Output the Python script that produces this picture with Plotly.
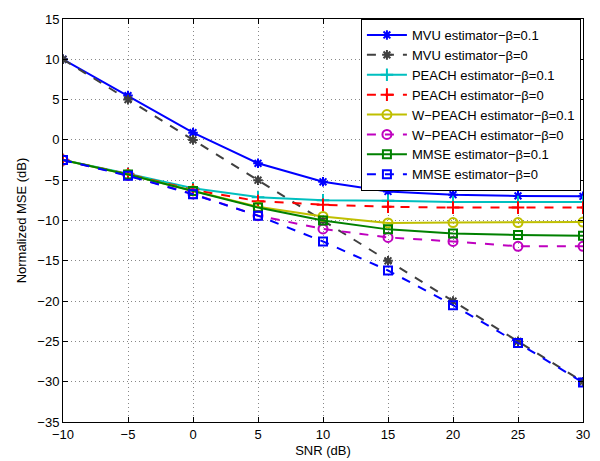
import plotly.graph_objects as go

snr = [-10, -5, 0, 5, 10, 15, 20, 25, 30]

mvu_b01 = [10.0, 5.5, 0.9, -2.9, -5.2, -6.4, -6.8, -6.95, -7.0]
mvu_b0 = [10.0, 5.0, 0.0, -5.0, -10.0, -15.0, -20.0, -25.0, -30.0]
peach_b01 = [-2.5, -4.2, -6.0, -7.1, -7.5, -7.55, -7.7, -7.7, -7.7]
peach_b0 = [-2.5, -4.25, -6.2, -7.6, -8.05, -8.3, -8.4, -8.4, -8.4]
wpeach_b01 = [-2.5, -4.3, -6.3, -8.3, -9.5, -10.3, -10.25, -10.25, -10.2]
wpeach_b0 = [-2.5, -4.4, -6.7, -9.4, -11.05, -12.1, -12.6, -13.2, -13.2]
mmse_b01 = [-2.5, -4.3, -6.35, -8.4, -10.0, -11.1, -11.6, -11.8, -11.9]
mmse_b0 = [-2.5, -4.45, -6.75, -9.4, -12.6, -16.2, -20.5, -25.2, -30.1]

names = [
    "MVU estimator−β=0.1",
    "MVU estimator−β=0",
    "PEACH estimator−β=0.1",
    "PEACH estimator−β=0",
    "W−PEACH estimator−β=0.1",
    "W−PEACH estimator−β=0",
    "MMSE estimator−β=0.1",
    "MMSE estimator−β=0",
]
series = [mvu_b01, mvu_b0, peach_b01, peach_b0, wpeach_b01, wpeach_b0, mmse_b01, mmse_b0]
colors = ["#0000ff", "#404040", "#00bfbf", "#ff0000", "#bfbf00", "#bf00bf", "#008000", "#0000ff"]
dashes = ["solid", "dash", "solid", "dash", "solid", "dash", "solid", "dash"]
symbols = ["asterisk-open", "asterisk-open", "cross-thin-open", "cross-thin-open",
           "circle-open", "circle-open", "square-open", "square-open"]
sizes = [8, 8, 9, 9, 9, 9, 8, 8]

fig = go.Figure()
for name, ys, c, d, s, sz in zip(names, series, colors, dashes, symbols, sizes):
    fig.add_trace(go.Scatter(
        x=snr, y=ys, name=name, mode="lines+markers",
        line=dict(color=c, width=2, dash=d),
        marker=dict(symbol=s, size=sz, color=c, line=dict(color=c, width=2)),
    ))

axis_common = dict(
    showline=True, linecolor="black", linewidth=1, mirror="allticks",
    ticks="inside", ticklen=5, tickcolor="black",
    showgrid=True, gridcolor="#888888", griddash="1px,3px", gridwidth=1,
    zeroline=False, ticklabeloverflow="allow",
    tickfont=dict(family="Liberation Sans, Arial", size=13, color="black"),
)

fig.update_layout(
    width=592, height=453,
    margin=dict(l=55, r=17, t=4, b=39),
    paper_bgcolor="white", plot_bgcolor="white",
    font=dict(family="Liberation Sans, Arial", size=13, color="black"),
    xaxis=dict(range=[-10, 30], dtick=5, tick0=-10,
               title=dict(text="SNR (dB)", standoff=5, font=dict(size=13)), **axis_common),
    yaxis=dict(range=[-35, 15], dtick=5, tick0=-35,
               title=dict(text="Normalized MSE (dB)", standoff=7, font=dict(size=13)), **axis_common),
    legend=dict(x=0.996, y=1.0, xanchor="right", yanchor="top",
                bgcolor="white", bordercolor="black", borderwidth=1,
                font=dict(size=13), tracegroupgap=0, itemwidth=40),
    showlegend=True,
)

fig.write_html("out.html")
